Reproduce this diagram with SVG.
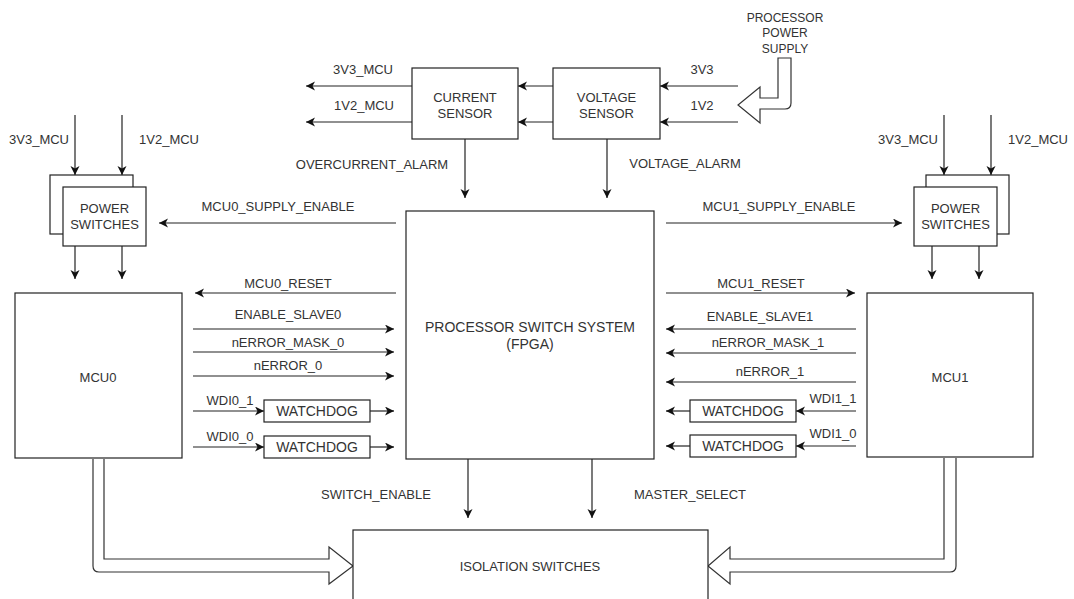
<svg xmlns="http://www.w3.org/2000/svg" width="1074" height="599" viewBox="0 0 1074 599">
<style>
text{font-family:"Liberation Sans",Arial,sans-serif;font-size:13px;fill:#333;text-anchor:middle}
.sm{font-size:12px}
.big{font-size:14px}
.box{fill:#fff;stroke:#222;stroke-width:1.2}
.ln{stroke:#222;stroke-width:1.2;fill:none;marker-end:url(#ah)}
.hollow{fill:#fff;stroke:#333;stroke-width:1.2}
</style>
<defs>
<marker id="ah" markerUnits="userSpaceOnUse" markerWidth="10" markerHeight="10" refX="9" refY="4.5" orient="auto">
<path d="M0,0 L9,4.5 L0,9 L2.5,4.5 Z" fill="#111"/>
</marker>
</defs>
<rect width="1074" height="599" fill="#fff"/>

<g id="connectors">
<!-- sensors -->
<line class="ln" x1="553" y1="86" x2="518" y2="86"/>
<line class="ln" x1="553" y1="122" x2="518" y2="122"/>
<line class="ln" x1="412" y1="86" x2="306" y2="86"/>
<line class="ln" x1="412" y1="122" x2="306" y2="122"/>
<line class="ln" x1="738" y1="86" x2="660" y2="86"/>
<line class="ln" x1="738" y1="122" x2="660" y2="122"/>
<line class="ln" x1="465" y1="139" x2="465" y2="198"/>
<line class="ln" x1="607" y1="139" x2="607" y2="198"/>
<path class="hollow" d="M778,58 H791 V103 Q791,109 785,109 H760 V123 L738,105 L760,87 V98 H778 Z"/>
<!-- left power switches -->
<line class="ln" x1="75" y1="115" x2="75" y2="175"/>
<line class="ln" x1="122" y1="115" x2="122" y2="175"/>
<line class="ln" x1="75" y1="246" x2="75" y2="279"/>
<line class="ln" x1="122" y1="246" x2="122" y2="279"/>
<line class="ln" x1="396" y1="223" x2="159" y2="223"/>
<!-- right power switches -->
<line class="ln" x1="944" y1="115" x2="944" y2="175"/>
<line class="ln" x1="991" y1="115" x2="991" y2="175"/>
<line class="ln" x1="932" y1="246" x2="932" y2="279"/>
<line class="ln" x1="979" y1="246" x2="979" y2="279"/>
<line class="ln" x1="666" y1="223" x2="902" y2="223"/>
<!-- MCU0 side -->
<line class="ln" x1="396" y1="293" x2="195" y2="293"/>
<line class="ln" x1="193" y1="329" x2="394" y2="329"/>
<line class="ln" x1="193" y1="352" x2="394" y2="352"/>
<line class="ln" x1="193" y1="376" x2="394" y2="376"/>
<line class="ln" x1="193" y1="411" x2="264" y2="411"/>
<line class="ln" x1="370" y1="411" x2="394" y2="411"/>
<line class="ln" x1="193" y1="447" x2="264" y2="447"/>
<line class="ln" x1="370" y1="447" x2="394" y2="447"/>
<!-- MCU1 side -->
<line class="ln" x1="666" y1="293" x2="855" y2="293"/>
<line class="ln" x1="856" y1="329" x2="666" y2="329"/>
<line class="ln" x1="856" y1="353" x2="666" y2="353"/>
<line class="ln" x1="856" y1="382" x2="666" y2="382"/>
<line class="ln" x1="856" y1="411" x2="796" y2="411"/>
<line class="ln" x1="690" y1="411" x2="666" y2="411"/>
<line class="ln" x1="856" y1="446" x2="796" y2="446"/>
<line class="ln" x1="690" y1="446" x2="666" y2="446"/>
<!-- FPGA to isolation -->
<line class="ln" x1="468" y1="459" x2="468" y2="518"/>
<line class="ln" x1="592" y1="459" x2="592" y2="518"/>
<path class="hollow" d="M93,459 V566 Q93,572 99,572 H329 V584 L353,566 L329,547 V559 H104 V459"/>
<path class="hollow" d="M956,458 V566 Q956,572 950,572 H730 V584 L708,566 L730,547 V559 H944 V458"/>
</g>

<g id="labels">
<text x="363" y="74">3V3_MCU</text>
<text x="364" y="110">1V2_MCU</text>
<text x="702" y="74">3V3</text>
<text x="702" y="110">1V2</text>
<text x="372" y="169">OVERCURRENT_ALARM</text>
<text x="685" y="168">VOLTAGE_ALARM</text>
<text x="39" y="144">3V3_MCU</text>
<text x="169" y="144">1V2_MCU</text>
<text x="908" y="144">3V3_MCU</text>
<text x="1038" y="144">1V2_MCU</text>
<text x="278" y="211">MCU0_SUPPLY_ENABLE</text>
<text x="779" y="211">MCU1_SUPPLY_ENABLE</text>
<text x="288" y="288">MCU0_RESET</text>
<text x="288" y="319">ENABLE_SLAVE0</text>
<text x="288" y="347">nERROR_MASK_0</text>
<text x="288" y="370">nERROR_0</text>
<text x="230" y="405">WDI0_1</text>
<text x="230" y="441">WDI0_0</text>
<text x="761" y="288">MCU1_RESET</text>
<text x="760" y="321">ENABLE_SLAVE1</text>
<text x="768" y="347">nERROR_MASK_1</text>
<text x="770" y="376">nERROR_1</text>
<text x="833" y="403">WDI1_1</text>
<text x="833" y="438">WDI1_0</text>
<text x="376" y="499">SWITCH_ENABLE</text>
<text x="690" y="499">MASTER_SELECT</text>
</g>

<g id="power-supply">
<text class="sm" x="785" y="22">PROCESSOR</text>
<text class="sm" x="785" y="37">POWER</text>
<text class="sm" x="785" y="53">SUPPLY</text>
</g>

<g id="current-sensor">
<rect class="box" x="412" y="68" width="106" height="71"/>
<text x="465" y="101.5">CURRENT</text>
<text x="465" y="117.5">SENSOR</text>
</g>

<g id="voltage-sensor">
<rect class="box" x="553" y="68" width="107" height="71"/>
<text x="606.5" y="101.5">VOLTAGE</text>
<text x="606.5" y="117.5">SENSOR</text>
</g>

<g id="power-switches-0">
<rect class="box" x="50" y="175" width="83" height="59"/>
<rect class="box" x="63" y="187" width="83" height="59"/>
<text x="104.5" y="212.5">POWER</text>
<text x="104.5" y="228.5">SWITCHES</text>
</g>

<g id="power-switches-1">
<rect class="box" x="926" y="175" width="83" height="59"/>
<rect class="box" x="914" y="187" width="83" height="59"/>
<text x="955.5" y="212.5">POWER</text>
<text x="955.5" y="228.5">SWITCHES</text>
</g>

<g id="mcu0">
<rect class="box" x="15" y="293" width="167" height="165"/>
<text x="98" y="381.5">MCU0</text>
</g>

<g id="mcu1">
<rect class="box" x="867" y="293" width="166" height="164"/>
<text x="950" y="381.5">MCU1</text>
</g>

<g id="fpga">
<rect class="box" x="406" y="211" width="248" height="248"/>
<text class="big" x="530" y="332">PROCESSOR SWITCH SYSTEM</text>
<text class="big" x="530" y="349">(FPGA)</text>
</g>

<g id="watchdog-0-1">
<rect class="box" x="264" y="400" width="106" height="22"/>
<text class="big" x="317" y="416">WATCHDOG</text>
</g>
<g id="watchdog-0-0">
<rect class="box" x="264" y="436" width="106" height="22"/>
<text class="big" x="317" y="452">WATCHDOG</text>
</g>
<g id="watchdog-1-1">
<rect class="box" x="690" y="400" width="106" height="22"/>
<text class="big" x="743" y="416">WATCHDOG</text>
</g>
<g id="watchdog-1-0">
<rect class="box" x="690" y="435" width="106" height="22"/>
<text class="big" x="743" y="451">WATCHDOG</text>
</g>

<g id="isolation-switches">
<rect class="box" x="353" y="530" width="355" height="80"/>
<text x="530" y="570.5">ISOLATION SWITCHES</text>
</g>
</svg>
